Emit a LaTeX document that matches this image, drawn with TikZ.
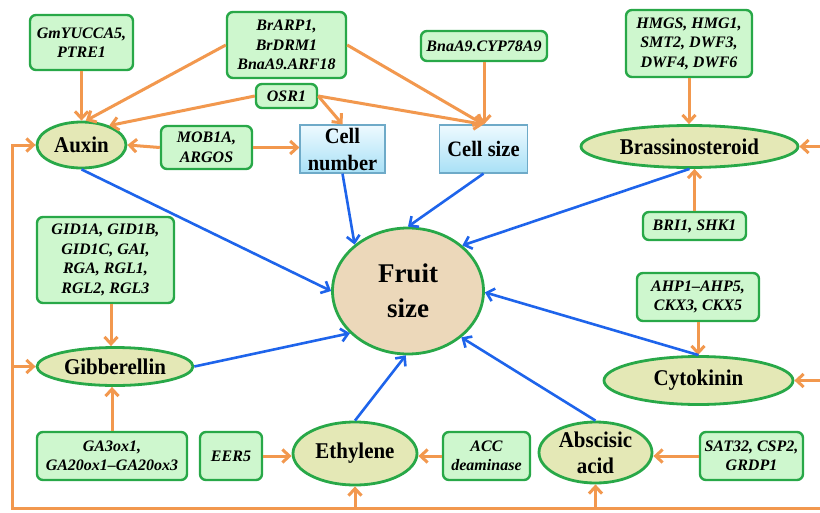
\documentclass[tikz,border=0pt]{standalone}
\usepackage{fontspec}
\setmainfont{Liberation Serif}
\newfontfamily\hormfont[FakeStretch=0.93]{Liberation Serif}
\usetikzlibrary{arrows.meta,shapes.geometric,calc}
\definecolor{orng}{RGB}{242,152,78}
\definecolor{blu}{RGB}{30,100,235}
\definecolor{gborder}{RGB}{40,168,72}
\definecolor{gfill}{RGB}{206,247,206}
\definecolor{hfill}{RGB}{228,232,182}
\definecolor{ffill}{RGB}{236,216,186}
\definecolor{cborder}{RGB}{110,170,200}
\definecolor{ctop}{RGB}{238,250,255}
\definecolor{cbot}{RGB}{168,224,246}
\tikzset{
 gene/.style={draw=gborder, fill=gfill, line width=2.4pt, rounded corners=6pt, inner sep=0pt, align=center, font=\fontsize{16}{19.5}\selectfont\bfseries\itshape},
 horm/.style={ellipse, draw=gborder, fill=hfill, line width=2.8pt, inner sep=0pt, align=center, font=\hormfont\fontsize{22.5}{26}\selectfont\bfseries},
 cellbox/.style={draw=cborder, top color=ctop, bottom color=cbot, line width=1.2pt, inner sep=0pt, align=center, font=\hormfont\fontsize{22}{27}\selectfont\bfseries},
 oarr/.style={draw=orng, line width=3pt, -{Straight Barb[length=7pt,width=13pt]}},
 barr/.style={draw=blu, line width=2.6pt, -{Straight Barb[length=7pt,width=13pt]}},
}
\begin{document}
\begin{tikzpicture}[x=1pt,y=-1pt]
\path[use as bounding box, fill=white] (0,0) rectangle (820,512);
% gene boxes
\node[gene, minimum width=103pt, minimum height=55pt] (yucca) at (81.5,42.5) {GmYUCCA5,\\PTRE1};
\node[gene, minimum width=119pt, minimum height=66pt] (brarp) at (286.5,45) {BrARP1,\\BrDRM1\\BnaA9.ARF18};
\node[gene, minimum width=126pt, minimum height=30pt] (cyp) at (484,46) {BnaA9.CYP78A9};
\node[gene, minimum width=126pt, minimum height=67pt] (hmgs) at (689,43.5) {HMGS, HMG1,\\SMT2, DWF3,\\DWF4, DWF6};
\node[gene, minimum width=61pt, minimum height=24pt] (osr) at (286.5,96) {OSR1};
\node[gene, minimum width=91pt, minimum height=43pt] (mob) at (206.5,147.5) {MOB1A,\\ARGOS};
\node[gene, minimum width=103pt, minimum height=28pt] (bri) at (694.5,226) {BRI1, SHK1};
\node[gene, minimum width=137pt, minimum height=86pt] (gid) at (105.5,260) {GID1A, GID1B,\\GID1C, GAI,\\RGA, RGL1,\\RGL2, RGL3};
\node[gene, minimum width=122pt, minimum height=48pt] (ahp) at (698,297) {AHP1--AHP5,\\CKX3, CKX5};
\node[gene, minimum width=150pt, minimum height=48pt] (ga3) at (112,456) {GA3ox1,\\GA20ox1--GA20ox3};
\node[gene, minimum width=62pt, minimum height=48pt] (eer) at (231,456) {EER5};
\node[gene, minimum width=87pt, minimum height=48pt] (acc) at (486.5,456) {ACC\\deaminase};
\node[gene, minimum width=103pt, minimum height=48pt] (sat) at (751.5,456) {SAT32, CSP2,\\GRDP1};
% cell boxes
\node[cellbox, minimum width=85pt, minimum height=48pt] (cellnum) at (342.5,149) {Cell\\number};
\node[cellbox, minimum width=88pt, minimum height=48pt] (cellsize) at (483.5,149) {Cell size};
% hormones
\node[horm, minimum width=89pt, minimum height=46pt] (auxin) at (81.5,145) {Auxin};
\node[horm, minimum width=217pt, minimum height=42pt] (brass) at (689.5,146.5) {Brassinosteroid};
\node[horm, minimum width=156pt, minimum height=38pt] (gib) at (115,366.5) {Gibberellin};
\node[horm, minimum width=189pt, minimum height=48pt] (cyto) at (698.5,380.5) {Cytokinin};
\node[horm, minimum width=124pt, minimum height=63pt] (eth) at (355,453.5) {Ethylene};
\node[horm, minimum width=113pt, minimum height=61pt] (aba) at (595.5,452.5) {Abscisic\\acid};
\node[ellipse, draw=gborder, fill=ffill, line width=2.8pt, inner sep=0pt, align=center, font=\fontsize{27}{35}\selectfont\bfseries, minimum width=151pt, minimum height=126pt] (fruit) at (408,291) {Fruit\\size};
% feedback loop
\coordinate (fbl) at (12,508);
\coordinate (fbr) at (820,508);
\draw[oarr] (fbr) -- (fbl) -- (fbl |- auxin.west) -- (auxin.west);
\draw[oarr] (fbl |- gib.west) -- (gib.west);
\draw[oarr] (eth.south |- fbl) -- (eth.south);
\draw[oarr] (aba.south |- fbl) -- (aba.south);
\draw[oarr] (brass.east -| fbr) -- (brass.east);
\draw[oarr] (cyto.east -| fbr) -- (cyto.east);
% orange regulators
\draw[oarr] (yucca.south) -- (auxin.north);
\draw[oarr] (brarp.west) -- (auxin.80);
\draw[oarr] (osr.west) -- (auxin.35);
\draw[oarr] (osr.east) -- (cellnum.north);
\draw[oarr] (osr.east) -- (cellsize.north);
\draw[oarr] (brarp.east) -- (cellsize.north);
\draw[oarr] (cyp.south) -- (cyp.south |- cellsize.north);
\draw[oarr] (mob.west) -- (auxin.east);
\draw[oarr] (mob.east) -- (mob.east -| cellnum.west);
\draw[oarr] (hmgs.south) -- (hmgs.south |- brass.north);
\draw[oarr] (bri.north) -- (bri.north |- brass.south);
\draw[oarr] ($(gid.south)+(5.5,0)$) -- ($(gid.south |- gib.north)+(5.5,0)$);
\draw[oarr] (ga3.north) -- (ga3.north |- gib.south);
\draw[oarr] (ahp.south) -- (ahp.south |- cyto.north);
\draw[oarr] (eer.east) -- (eer.east -| eth.west);
\draw[oarr] (acc.west) -- (acc.west -| eth.east);
\draw[oarr] (sat.west) -- (sat.west -| aba.east);
% blue to fruit size
\draw[barr] (auxin.south) -- (fruit.180);
\draw[barr] (cellnum.south) -- (fruit.139);
\draw[barr] (cellsize.south) -- (fruit.90);
\draw[barr] (brass.south) -- (fruit.40);
\draw[barr] (cyto.north) -- (fruit.-1);
\draw[barr] (aba.north) -- (fruit.-41);
\draw[barr] (eth.north) -- (fruit.-92);
\draw[barr] (gib.east) -- (fruit.216);
\end{tikzpicture}
\end{document}
